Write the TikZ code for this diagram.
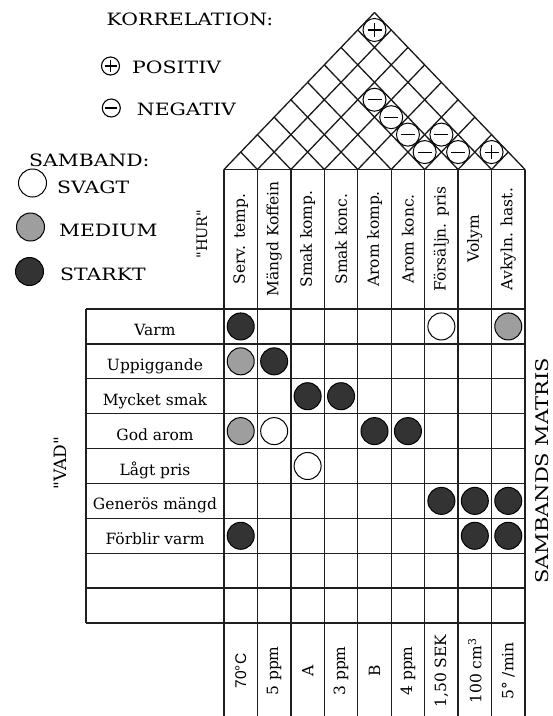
\documentclass[tikz,border=0pt]{standalone}
\usepackage{fontspec}
\setmainfont{DejaVu Serif}
\newfontfamily\capsfont[FakeStretch=1.2]{DejaVu Serif}
\newfontfamily\sansfont{Liberation Sans}
\begin{document}
\begin{tikzpicture}[x=1pt,y=-1pt,
  gridline/.style={line width=1.25pt, draw=black!88},
  roofline/.style={line width=1.3pt, draw=black!90, line cap=round},
  corrc/.style={circle, draw, fill=white, line width=1pt, minimum size=23pt, inner sep=0pt},
  legc/.style={circle, draw, fill=white, line width=1.1pt, minimum size=18pt, inner sep=0pt},
  dotc/.style={circle, draw, line width=1pt, minimum size=27pt, inner sep=0pt},
  dotS/.style={dotc, fill=black!80},
  dotM/.style={dotc, fill=black!38},
  dotW/.style={dotc, fill=white},
  legtext/.style={anchor=base west, inner sep=0pt, font=\capsfont\fontsize{17}{20}\selectfont},
  rowlab/.style={anchor=base, inner sep=0pt, font=\fontsize{15.5}{18}\selectfont},
  colhead/.style={rotate=90, anchor=center, inner sep=0pt, font=\fontsize{15.5}{18}\selectfont},
  botlab/.style={rotate=90, anchor=center, inner sep=0pt, font=\fontsize{15.5}{18}\selectfont}
]
\useasboundingbox (0,0) rectangle (553,716);
\fill[white] (0,0) rectangle (553,716);
\def\wc{33.444}
\def\rh{34.889}
% ---- roof ----
\foreach \i in {0,...,9}{
  \pgfmathsetmacro\ax{224+\i*\wc}
  \pgfmathsetmacro\hr{(525-\ax)/2}
  \pgfmathsetmacro\hl{(\ax-224)/2}
  \draw[roofline] (\ax,169.5) -- ({(\ax+525)/2},{169.5-1.043*\hr});
  \draw[roofline] (\ax,169.5) -- ({(\ax+224)/2},{169.5-1.043*\hl});
}
% ---- column lines ----
\foreach \i in {0,...,9}{
  \draw[gridline] ({224+\i*\wc},169.5) -- ({224+\i*\wc},716);
}
\draw[gridline] (224,169.5) -- (525,169.5);
% ---- row lines ----
\foreach \r in {0,...,9}{
  \draw[gridline] (86,{309+\r*\rh}) -- (525,{309+\r*\rh});
}
\draw[gridline] (86,309) -- (86,623);
% ---- correlation symbols ----
\foreach \i/\j/\s in {1/9/p,3/7/m,4/7/m,5/7/m,6/7/m,6/8/m,7/8/m,8/9/p}{
  \node[corrc] (k\i\j) at ({224+(\i+\j-1)*\wc/2},{169.5-1.043*(\j-\i)*\wc/2}) {};
  \draw[line width=1.1pt] ([xshift=-7pt]k\i\j.center) -- ([xshift=7pt]k\i\j.center);
  \if p\s
    \draw[line width=1.1pt] ([yshift=-7pt]k\i\j.center) -- ([yshift=7pt]k\i\j.center);
  \fi
}
% ---- column headers ----
\foreach \t [count=\c] in {Serv. temp.,Mängd Koffein,Smak komp.,Smak konc.,Arom komp.,Arom konc.,Försäljn. pris,Volym,Avkyln. hast.}{
  \node[colhead] (h\c) at ({224+(\c-0.5)*\wc},239) {\t};
}
% ---- row labels ----
\foreach \t [count=\r] in {Varm,Uppiggande,Mycket smak,God arom,Lågt pris,Generös mängd,Förblir varm}{
  \node[rowlab] (r\r) at (155,{309+(\r-0.5)*\rh+9}) {\t};
}
% ---- bottom labels ----
\foreach \t [count=\c] in {{\sansfont 70°C},5 ppm,A,3 ppm,B,4 ppm,{1,50 SEK},{100 cm\textsuperscript{3}},5° /min}{
  \node[botlab] (b\c) at ({224+(\c-0.5)*\wc},671) {\t};
}
% ---- relationship dots ----
\foreach \r/\c/\k in {1/1/S,1/7/W,1/9/M,2/1/M,2/2/S,3/3/S,3/4/S,4/1/M,4/2/W,4/5/S,4/6/S,5/3/W,6/7/S,6/8/S,6/9/S,7/1/S,7/8/S,7/9/S}{
  \node[dot\k] (d\r\c) at ({224+(\c-0.5)*\wc},{309+(\r-0.5)*\rh}) {};
}
% ---- side titles ----
\node[rotate=90, inner sep=0pt, font=\fontsize{14.5}{16}\selectfont] (hur) at (202,234) {\textquotedbl HUR\textquotedbl};
\node[rotate=90, inner sep=0pt, font=\fontsize{17}{20}\selectfont] (vad) at (60,463) {\textquotedbl VAD\textquotedbl};
\node[rotate=90, anchor=base, inner sep=0pt, font=\capsfont\fontsize{17.5}{20}\selectfont] (sm) at (548.5,471) {SAMBANDS MATRIS};
% ---- legend ----
\node[anchor=base, inner sep=0pt, font=\capsfont\fontsize{17}{20}\selectfont] (korr) at (190,25) {KORRELATION:};
\node[legc] (lp) at (110.5,66) {};
\draw[line width=1.1pt] ([xshift=-6pt]lp.center) -- ([xshift=6pt]lp.center);
\draw[line width=1.1pt] ([yshift=-6pt]lp.center) -- ([yshift=6pt]lp.center);
\node[legtext] (tp) at (132,73) {POSITIV};
\node[legc] (lm) at (111.3,108) {};
\draw[line width=1.1pt] ([xshift=-6pt]lm.center) -- ([xshift=6pt]lm.center);
\node[legtext] (tm) at (136.7,115) {NEGATIV};
\node[legtext] (samb) at (29,166.7) {SAMBAND:};
\node[dotW, minimum size=28pt] (lw) at (32.5,183) {};
\node[legtext] (tw) at (57,193) {SVAGT};
\node[dotM, minimum size=28pt] (lmd) at (30.5,227) {};
\node[legtext] (tmd) at (59,236.7) {MEDIUM};
\node[dotS, minimum size=28pt] (ls) at (29.5,271.5) {};
\node[legtext] (ts) at (60,280) {STARKT};
\end{tikzpicture}
\end{document}
